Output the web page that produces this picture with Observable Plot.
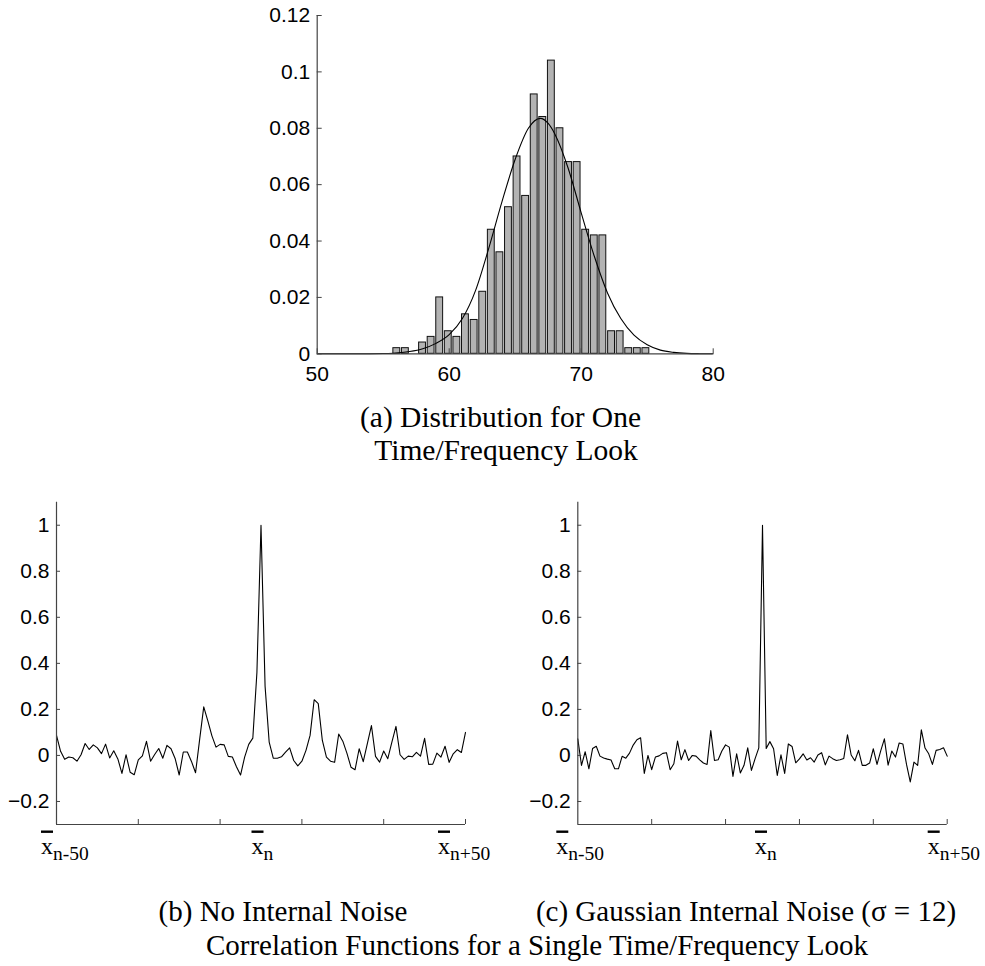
<!DOCTYPE html>
<html><head><meta charset="utf-8">
<script src="https://cdn.jsdelivr.net/npm/d3@7"></script>
<script src="https://cdn.jsdelivr.net/npm/@observablehq/plot@0.6"></script>
<style>
html,body{margin:0;padding:0;background:#fff;}
#wrap{position:relative;width:985px;height:966px;overflow:hidden;background:#fff;}
#wrap svg{position:absolute;overflow:visible;}
.ovl{text-decoration:overline;text-decoration-thickness:1px;}
</style></head><body><div id="wrap"></div>
<script>
// ---------- DATA ----------
const binCenters = [56.03,56.68,57.33,57.98,58.63,59.28,59.93,60.58,61.23,61.89,62.54,63.19,63.84,64.49,65.14,65.79,66.44,67.09,67.74,68.39,69.04,69.69,70.34,70.99,71.64,72.30,72.95,73.60,74.25,74.90];
const binProb = [0.002,0.002,0,0.004,0.006,0.02,0.008,0.006,0.014,0.012,0.022,0.044,0.036,0.052,0.07,0.056,0.092,0.084,0.104,0.08,0.068,0.068,0.044,0.042,0.042,0.008,0.008,0.002,0.002,0.002];
const fitX = [50,52,54,55,56,57,58,59,60,61,62,63,64,65,66,66.9,67.5,68,69,70,71,72,73,74,75,76,77,78,79,80];
const fitY = [0,0,0.00003,0.0001,0.0003,0.0008,0.0018,0.0037,0.0068,0.0125,0.0225,0.0375,0.054,0.069,0.080,0.0835,0.0817,0.078,0.066,0.050,0.0345,0.0215,0.0125,0.0066,0.0032,0.0013,0.0005,0.00015,0.00004,0];
const histXTicks = [50,60,70,80];
const histYTicks = [0,0.02,0.04,0.06,0.08,0.1,0.12];
const histYTickLabels = ["0","0.02","0.04","0.06","0.08","0.1","0.12"];

const lags = d3.range(-50, 51);
const corrNoNoise = [0.087,0.018,-0.017,-0.007,-0.01,-0.025,0.003,0.052,0.026,0.046,
0.033,0.008,0.049,-0.011,0.02,-0.015,-0.078,0.003,-0.073,-0.084,
-0.019,-0.002,0.061,-0.025,0.004,0.03,-0.012,0.044,0.029,-0.013,
-0.085,0.015,0.015,-0.026,-0.075,0.07,0.211,0.15,0.085,0.036,
0.048,0.046,-0.004,-0.007,-0.049,-0.085,-0.007,0.048,0.075,0.36,
1.0,
0.3,0.058,-0.012,-0.012,-0.006,0.014,0.033,-0.022,-0.045,-0.025,
0.022,0.087,0.242,0.225,0.065,-0.007,-0.025,-0.03,0.093,0.062,
0.01,-0.051,-0.062,0.029,-0.027,0.051,0.13,-0.004,-0.029,0.019,
-0.014,0.058,0.126,0.003,-0.017,-0.003,-0.006,0.013,-0.003,0.074,
-0.039,-0.038,0.01,-0.007,0.04,-0.03,0.007,0.025,0.013,0.1];
const corrGaussNoise = [0.072,-0.043,0.016,-0.058,0.03,0.04,-0.003,-0.011,-0.016,-0.02,
-0.058,-0.058,-0.004,-0.012,0.01,0.045,0.068,0.077,-0.078,0,
-0.062,-0.007,-0.002,0.009,0.012,-0.062,-0.036,0.062,-0.019,0.025,
-0.022,0,-0.003,-0.019,-0.033,-0.039,0.108,-0.022,-0.019,0.019,
0.046,0.036,-0.091,0.007,-0.076,-0.043,0.033,-0.065,-0.014,0.033,
1.0,
0.03,0.06,0.029,-0.087,0.003,-0.078,0.05,0.039,-0.032,-0.015,
0.007,-0.02,-0.01,-0.029,0.002,0.012,-0.041,-0.003,-0.014,-0.022,
-0.019,-0.013,0.09,0.002,-0.023,0.022,-0.043,-0.043,-0.033,0.029,
-0.039,0.02,0.072,-0.042,0.019,-0.007,0.054,0.05,-0.04,-0.115,
-0.029,-0.043,0.111,0.032,0.007,-0.039,0.022,0.026,0.033,-0.003];
const corrYTicks = [-0.2,0,0.2,0.4,0.6,0.8,1];
const corrYTickLabels = ["\u22120.2","0","0.2","0.4","0.6","0.8","1"];
const corrXTicks = [-30,-10,10,30,50];
const corrXLabelLags = [-50,0,50];
const corrXLabelSubs = ["n-50","n","n+50"];

const captionA1 = "(a) Distribution for One";
const captionA2 = "Time/Frequency Look";
const captionB = "(b) No Internal Noise";
const captionC = "(c) Gaussian Internal Noise (\u03c3 = 12)";
const captionMain = "Correlation Functions for a Single Time/Frequency Look";

// ---------- STYLE ----------
const SANS = "'Liberation Sans', Arial, Helvetica, sans-serif";
const SERIF = "'Liberation Serif', 'Times New Roman', Times, serif";
const AXIS = "#444";
const wrap = document.getElementById("wrap");

// ---------- (a) histogram ----------
{
  const W = 985, H = 400;
  const m = {left: 316.7, right: 272.3, top: 15, bottom: 46.7};
  const fw = W - m.left - m.right, fh = H - m.top - m.bottom;
  const bins = binCenters.map((c, i) => ({x1: c - 0.26, x2: c + 0.26, y: binProb[i]}));
  const fit = fitX.map((x, i) => ({x, y: fitY[i]}));
  const svg = Plot.plot({
    width: W, height: H,
    marginLeft: m.left, marginRight: m.right, marginTop: m.top, marginBottom: m.bottom,
    x: {domain: [50, 80]},
    y: {domain: [0, 0.12]},
    style: {fontFamily: SANS, fontSize: "21px", color: "#000", background: "transparent", overflow: "visible"},
    marks: [
      Plot.rectY(bins, {x1: "x1", x2: "x2", y: "y", fill: "#b3b3b3", stroke: "#111", strokeWidth: 1}),
      Plot.line(fit, {x: "x", y: "y", stroke: "#000", strokeWidth: 1.1, curve: "monotone-x"}),
      Plot.ruleX([50], {stroke: AXIS, strokeWidth: 1.2}),
      Plot.ruleY([0], {stroke: AXIS, strokeWidth: 1.2}),
      Plot.ruleX(histXTicks, {stroke: AXIS, insetTop: fh - 5}),
      Plot.ruleY(histYTicks, {stroke: AXIS, insetRight: fw - 5}),
      Plot.axisX({ticks: histXTicks, tickSize: 0, tickPadding: 12, fontSize: 21, label: null, tickFormat: d => String(d)}),
      Plot.axisY({ticks: histYTicks, tickSize: 0, tickPadding: 7, fontSize: 21, label: null, tickFormat: (d) => histYTickLabels[histYTicks.indexOf(d)]})
    ]
  });
  svg.style.left = "0px"; svg.style.top = "0px";
  wrap.appendChild(svg);
}

// ---------- (b), (c) correlation functions ----------
function corrPlot(values, o) {
  const W = o.width, H = 400;
  const fw = W - o.ml - o.mr, fh = H - o.mt - o.mb;
  const data = lags.map((l, i) => ({lag: l, r: values[i]}));
  const svg = Plot.plot({
    width: W, height: H,
    marginLeft: o.ml, marginRight: o.mr, marginTop: o.mt, marginBottom: o.mb,
    x: {domain: [-50, 50], axis: null},
    y: {domain: [-0.3, 1.1]},
    style: {fontFamily: SANS, fontSize: "21px", color: "#000", background: "transparent", overflow: "visible"},
    marks: [
      Plot.line(data, {x: "lag", y: "r", stroke: "#000", strokeWidth: 1.1}),
      Plot.ruleX([-50], {stroke: AXIS, strokeWidth: 1.2}),
      Plot.ruleY([-0.3], {stroke: AXIS, strokeWidth: 1.2}),
      Plot.ruleX(corrXTicks, {stroke: AXIS, insetTop: fh - 5}),
      Plot.ruleY(corrYTicks, {stroke: AXIS, insetRight: fw - 4}),
      Plot.axisY({ticks: corrYTicks, tickSize: 0, tickPadding: 7, fontSize: 21, label: null, tickFormat: (d) => corrYTickLabels[corrYTicks.indexOf(d)]})
    ]
  });
  const sx = svg.scale("x");
  const g = d3.select(svg).append("g").attr("font-family", SERIF).attr("fill", "#000").attr("text-anchor", "start");
  corrXLabelLags.forEach((l, i) => {
    const t = g.append("text")
      .attr("x", sx.apply(l) + o.labelDx[i])
      .attr("y", H - o.mb + 29.5)
      .attr("text-anchor", "start")
      .attr("font-size", 24);
    t.append("tspan").attr("class", "ovl").text("x");
    t.append("tspan").attr("font-size", 19.5).attr("dy", 6).text(corrXLabelSubs[i]);
  });
  svg.style.left = o.left + "px"; svg.style.top = o.top + "px";
  wrap.appendChild(svg);
}
corrPlot(corrNoNoise, {left: 0, top: 480, width: 490, ml: 56, mr: 25, mt: 21.7, mb: 56, labelDx: [-15, -9, -27]});
corrPlot(corrGaussNoise, {left: 500, top: 480, width: 485, ml: 77.3, mr: 38.3, mt: 21.7, mb: 56, labelDx: [-21, -7, -19]});

// ---------- captions ----------
{
  const svg = d3.create("svg").attr("width", 985).attr("height", 966)
    .style("left", "0px").style("top", "0px")
    .attr("font-family", SERIF).attr("fill", "#000").attr("text-anchor", "middle");
  const caps = [
    [captionA1, 500.5, 426.7, 29.5],
    [captionA2, 506, 460, 29.5],
    [captionB, 283, 921, 29],
    [captionC, 746, 921, 29],
    [captionMain, 537, 955, 29]
  ];
  caps.forEach(([t, x, y, fs]) => svg.append("text").attr("x", x).attr("y", y).attr("font-size", fs).text(t));
  wrap.appendChild(svg.node());
}
</script></body></html>
